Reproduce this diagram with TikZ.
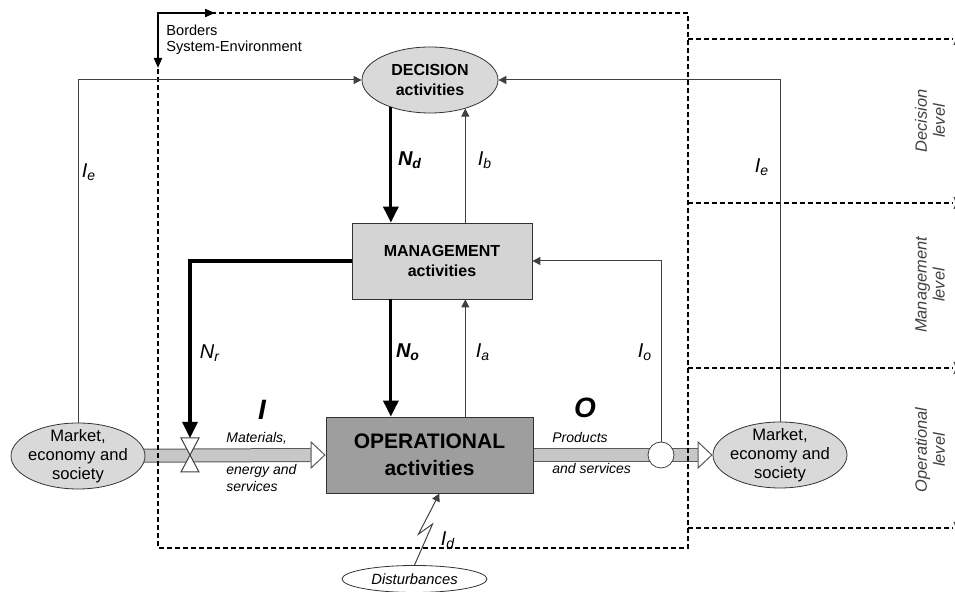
\documentclass[tikz,border=0pt]{standalone}
\usepackage{fontspec}
\setmainfont{Liberation Sans}
\usepackage{tikz}
\usetikzlibrary{arrows.meta, shapes.geometric, backgrounds}
\newcommand{\flow}[2]{#1\textsubscript{#2}}
\tikzstyle{activity}=[shape=rectangle,draw=black!80,align=center,inner sep=0pt,font=\fontsize{8}{10}\selectfont\bfseries]
\tikzstyle{oval}=[shape=ellipse,draw=black!80,align=center,inner sep=0pt]
\tikzstyle{market}=[oval,fill=black!15,inner xsep=-2pt,inner ysep=-6pt,minimum width=67pt,minimum height=33pt,font=\fontsize{8.3}{9.5}\selectfont]
\tikzstyle{joint}=[shape=circle,draw=black!75,fill=white,inner sep=0pt,minimum size=13pt]
\tikzstyle{valve}=[draw=black!75,fill=white,line width=0.5pt]
\tikzstyle{info}=[draw=black!75,line width=0.5pt,-{Triangle[length=4pt,width=4pt]}]
\tikzstyle{ctrl}=[draw=black,line width=1.6pt,-{Triangle[length=8pt,width=7.5pt]}]
\tikzstyle{pipe}=[draw=black!22,line width=6pt,preaction={draw=black!65,line width=7pt}]
\tikzstyle{pipeend}=[draw=black!65,line width=0.5pt,-{Triangle[fill=white,length=7.5pt,width=14pt]}]
\tikzstyle{border}=[draw=black,dash pattern=on 2.5pt off 1.5pt,line width=0.6pt]
\tikzstyle{bordermark}=[draw=black,line width=1pt,{Triangle[length=5pt,width=4pt]}-{Triangle[length=5pt,width=4pt]}]
\tikzstyle{levelmark}=[draw=black!70,line width=0.4pt,{Triangle[length=3pt,width=2.5pt]}-{Triangle[length=3pt,width=2.5pt]}]
\tikzstyle{lbl}=[font=\fontsize{10}{12}\selectfont\itshape]
\tikzstyle{note}=[inner sep=0pt,font=\fontsize{7}{8.5}\selectfont\itshape]
\tikzstyle{level}=[rotate=90,align=center,inner sep=0pt,font=\fontsize{8.2}{9}\selectfont\itshape,text=black!75]

\begin{document}
\begin{tikzpicture}[x=0.5pt,y=-0.5pt]
\useasboundingbox (0,0) rectangle (955,592);

% borders
\draw[border] (158,13) rectangle (688,548);
\draw[border] (688,39) -- (953,39);
\draw[border] (688,203) -- (953,203);
\draw[border] (688,368) -- (953,368);
\draw[border] (688,528) -- (953,528);
\draw[bordermark] (158,68) -- (158,13) -- (215,13);
\node[anchor=west,align=left,inner sep=0pt,font=\fontsize{7.3}{8}\selectfont] (brd) at (166,40) {Borders\\System-Environment};

% levels
\node[level] (lvd) at (930,121) {Decision\\level};
\node[level] (lvm) at (930,285) {Management\\level};
\node[level] (lvo) at (930,450) {Operational\\level};
\draw[levelmark] (956,39) -- (956,203);
\draw[levelmark] (956,203) -- (956,368);
\draw[levelmark] (956,368) -- (956,528);

% activities
\node[oval,fill=black!15,minimum width=68pt,minimum height=33pt,font=\fontsize{8}{9.5}\selectfont\bfseries] (dec) at (430,80) {DECISION\\activities};
\node[activity,fill=black!17,minimum width=90pt,minimum height=38pt] (mgmt) at (442,261) {MANAGEMENT\\activities};
\node[activity,fill=black!38,minimum width=103.5pt,minimum height=38pt,font=\fontsize{10.5}{13.5}\selectfont\bfseries] (oper) at (429.5,455) {OPERATIONAL\\activities};

% environment
\node[market] (mktL) at (78,456) {Market,\\economy and\\society};
\node[market] (mktR) at (780,455) {Market,\\economy and\\society};
\node[oval,minimum width=72.5pt,minimum height=13.5pt,font=\fontsize{7.4}{8.5}\selectfont\itshape] (dist) at (414.5,579) {Disturbances};

% material flows
\begin{scope}[on background layer]
\path[pipe] (mktL.center) -- ([xshift=-7.5pt]oper.west);
\path[pipe] (oper.center) -- ([xshift=-7.5pt]mktR.west);
\end{scope}
\path[pipeend] ([xshift=-7.5pt]oper.west) -- (oper.west);
\path[pipeend] ([xshift=-7.5pt]mktR.west) -- (mktR.west);
\node[joint] (oc) at (661,455) {};
\coordinate (vlv) at (190,455);
\draw[valve] (vlv) -- ++(-9,-17) -- ++(18,0) -- cycle;
\draw[valve] (vlv) -- ++(-9,17) -- ++(18,0) -- cycle;

% control
\path[ctrl] (dec.-145) -- (dec.-145 |- mgmt.north);
\path[ctrl] (mgmt.south -| dec.-145) -- (oper.north -| dec.-145);
\path[ctrl] (mgmt.west) -| ([yshift=8.5pt]vlv);

% information
\path[info] (mgmt.north -| dec.-39) -- (dec.-39);
\path[info] (oper.north -| dec.-39) -- (mgmt.south -| dec.-39);
\path[info] (mktL.north) |- (dec.west);
\path[info] (mktR.north) |- (dec.east);
\path[info] (oc.north) |- (mgmt.east);
\path[info] (dist.north) -- ++(18,-41) -- ++(-14,10) -- ([xshift=5pt]oper.south);

% labels
\node[lbl] (le1) at (89,172) {\flow{I}{e}};
\node[lbl] (le2) at (762,167) {\flow{I}{e}};
\node[lbl,font=\fontsize{10}{12}\selectfont\bfseries\itshape] (lnd) at (410,160) {\flow{N}{d}};
\node[lbl] (lib) at (485,160) {\flow{I}{b}};
\node[lbl] (lnr) at (210,353) {\flow{N}{r}};
\node[lbl,font=\fontsize{10}{12}\selectfont\bfseries\itshape] (lno) at (408,352) {\flow{N}{o}};
\node[lbl] (lia) at (483,352) {\flow{I}{a}};
\node[lbl] (lio) at (645,352) {\flow{I}{o}};
\node[lbl] (lid) at (448,540) {\flow{I}{d}};
\node[font=\fontsize{14}{16}\selectfont\bfseries\itshape] (lin) at (262,410) {I};
\node[font=\fontsize{14}{16}\selectfont\bfseries\itshape] (lout) at (585,408) {O};
\node[note,anchor=west] (mat1) at (226,438) {Materials,};
\node[note,anchor=west,align=left] (mat2) at (226,478) {energy and\\services};
\node[note,anchor=west] (prd1) at (552,438) {Products};
\node[note,anchor=west] (prd2) at (552,469) {and services};

\end{tikzpicture}
\end{document}
